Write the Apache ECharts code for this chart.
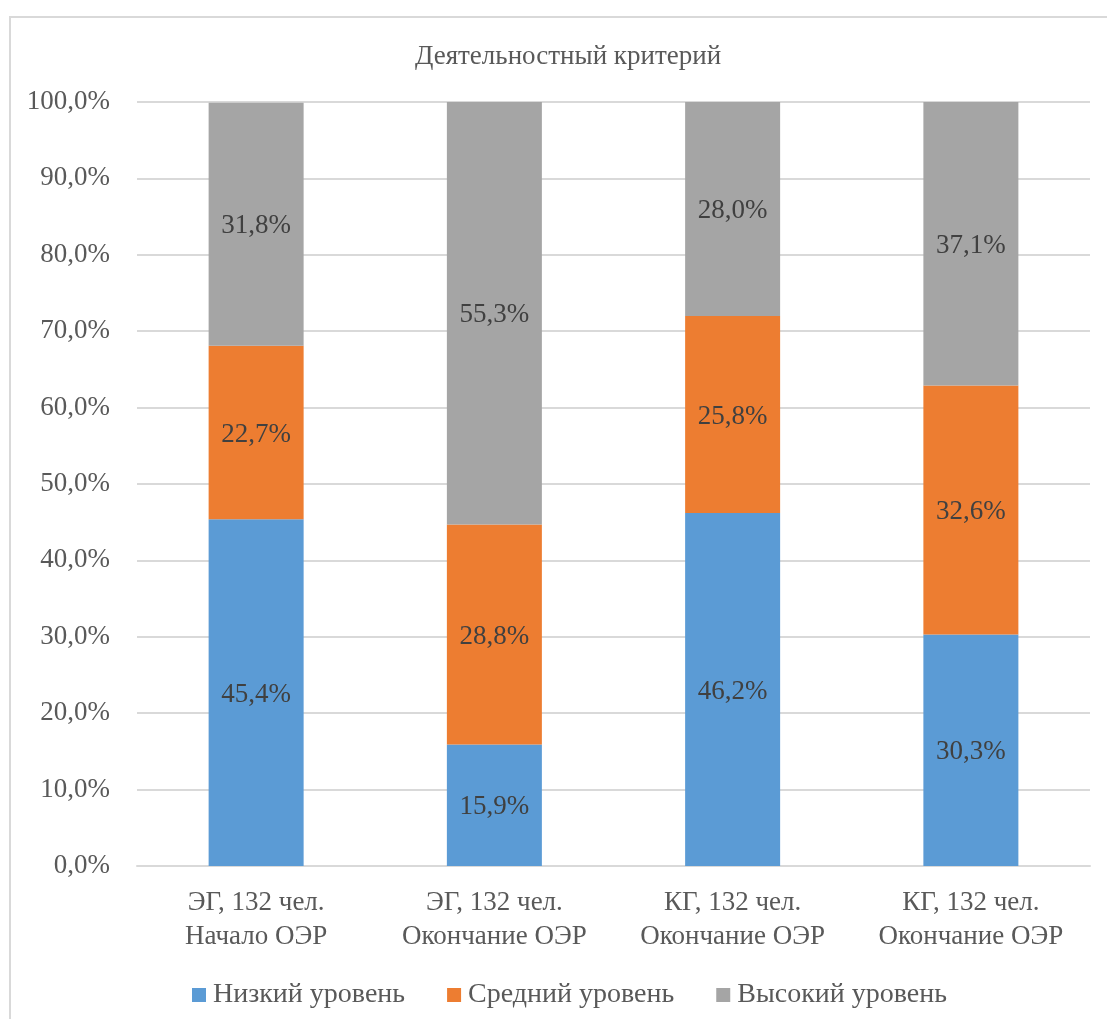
<!DOCTYPE html>
<html>
<head>
<meta charset="utf-8">
<script src="https://cdn.jsdelivr.net/npm/echarts@6/dist/echarts.min.js"></script>
<style>
  html, body { margin: 0; padding: 0; background: #fff; }
  #frame { position: absolute; left: 9px; top: 16px; width: 1120px; height: 1020px; border: 2px solid #d9d9d9; box-sizing: border-box; }
  #chart { position: absolute; left: 0; top: 0; width: 1107px; height: 1019px; }
</style>
</head>
<body>
<div id="frame"></div>
<div id="chart"></div>
<script>
// categories and values (%)
var categories = ['ЭГ, 132 чел.\nНачало ОЭР', 'ЭГ, 132 чел.\nОкончание ОЭР', 'КГ, 132 чел.\nОкончание ОЭР', 'КГ, 132 чел.\nОкончание ОЭР'];
var lowLevel = [45.4, 15.9, 46.2, 30.3];
var midLevel = [22.7, 28.8, 25.8, 32.6];
var highLevel = [31.8, 55.3, 28.0, 37.1];
var seriesNames = ['Низкий уровень', 'Средний уровень', 'Высокий уровень'];
var colors = ['#5b9bd5', '#ed7d31', '#a5a5a5'];

var font = 'Times New Roman, serif';
var fmt = function (v) { return v.toFixed(1).replace('.', ',') + '%'; };

var mychart = echarts.init(document.getElementById('chart'));

function makeSeries(name, data, color) {
    return {
        name: name,
        type: 'bar',
        stack: 'total',
        barWidth: 95,
        data: data,
        itemStyle: { color: color },
        label: {
            show: true,
            position: 'inside',
            offset: [0, 2],
            fontFamily: font,
            fontSize: 27,
            color: '#404040',
            formatter: function (p) { return fmt(p.value); }
        }
    };
}

mychart.setOption({
    animation: false,
    color: colors,
    title: {
        text: 'Деятельностный критерий',
        left: 563,
        top: 38,
        textAlign: 'center',
        textStyle: { fontFamily: font, fontSize: 27, fontWeight: 'normal', color: '#595959' }
    },
    legend: {
        left: 187,
        top: 976,
        itemWidth: 14,
        itemHeight: 14,
        itemGap: 42,
        icon: 'rect',
        textStyle: { fontFamily: font, fontSize: 28, color: '#595959', padding: [0, 0, 0, 2] },
        data: seriesNames
    },
    grid: { left: 137, right: 17, top: 102, bottom: 153 },
    xAxis: {
        type: 'category',
        data: categories,
        axisLine: { lineStyle: { color: '#d9d9d9', width: 2 } },
        axisTick: { show: false },
        axisLabel: { interval: 0, fontFamily: font, fontSize: 27, color: '#595959', lineHeight: 34, margin: 20 }
    },
    yAxis: {
        type: 'value',
        min: 0,
        max: 100,
        interval: 10,
        axisLine: { show: false },
        axisTick: { show: false },
        splitLine: { lineStyle: { color: '#d9d9d9', width: 2 } },
        axisLabel: { fontFamily: font, fontSize: 27, color: '#595959', margin: 27, formatter: fmt }
    },
    series: [
        makeSeries(seriesNames[0], lowLevel, colors[0]),
        makeSeries(seriesNames[1], midLevel, colors[1]),
        makeSeries(seriesNames[2], highLevel, colors[2])
    ]
});
</script>
</body>
</html>
